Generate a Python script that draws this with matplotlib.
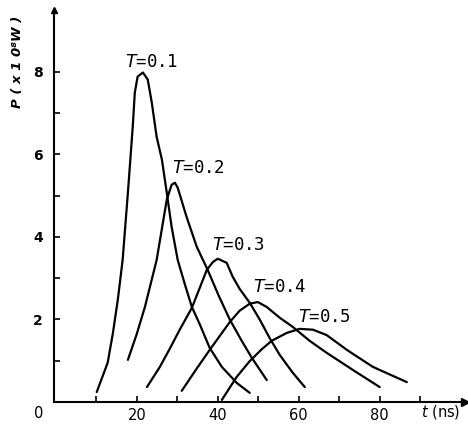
"""Laser pulse power vs time for several output coupling T values."""

import matplotlib
matplotlib.use("Agg")
import matplotlib.pyplot as plt

plt.rcParams["mathtext.fontset"] = "dejavusans"

# pulse curves: time (ns) and power (x10^8 W)
t_01 = [10.1, 12.8, 14.1, 15.3, 16.5, 17.8, 19.0, 19.5, 20.2, 21.5, 22.7, 23.7, 24.9, 26.2,
        27.4, 28.6, 30.1, 31.9, 33.6, 35.6, 38.0, 41.0, 44.7, 47.9]
p_01 = [0.24, 0.95, 1.67, 2.47, 3.44, 5.07, 6.67, 7.49, 7.88, 7.98, 7.81, 7.25, 6.42, 5.87,
        5.07, 4.24, 3.44, 2.84, 2.30, 1.87, 1.31, 0.85, 0.46, 0.22]

t_02 = [17.8, 20.0, 22.0, 24.9, 27.4, 28.6, 29.4, 30.1, 32.3, 34.8, 37.5, 40.2, 43.0, 45.8, 48.4, 52.1]
p_02 = [1.02, 1.65, 2.30, 3.44, 4.90, 5.26, 5.31, 5.19, 4.48, 3.76, 3.20, 2.58, 1.99, 1.50, 1.07, 0.53]

t_03 = [22.5, 25.7, 28.2, 30.6, 33.6, 37.3, 38.8, 40.0, 42.2, 43.7, 45.4, 47.9, 50.4,
        52.8, 55.3, 58.5, 61.5]
p_03 = [0.36, 0.85, 1.30, 1.75, 2.28, 3.20, 3.39, 3.47, 3.37, 3.03, 2.74, 2.40, 1.99,
        1.55, 1.14, 0.71, 0.36]

t_04 = [31.1, 34.6, 38.0, 43.0, 45.4, 47.9, 49.9, 52.1, 55.3, 58.5, 62.7, 66.9, 73.3, 80.0]
p_04 = [0.27, 0.78, 1.26, 1.94, 2.21, 2.38, 2.42, 2.30, 2.04, 1.82, 1.48, 1.19, 0.78, 0.36]

t_05 = [41.0, 44.7, 47.9, 50.9, 53.3, 57.0, 60.2, 63.5, 66.9, 71.9, 78.3, 86.7]
p_05 = [0.05, 0.61, 0.99, 1.28, 1.48, 1.67, 1.77, 1.75, 1.62, 1.26, 0.85, 0.48]

curves = [(t_01, p_01), (t_02, p_02), (t_03, p_03), (t_04, p_04), (t_05, p_05)]
labels = ["0.1", "0.2", "0.3", "0.4", "0.5"]
label_t = [17.0, 28.6, 38.5, 48.6, 59.8]
label_p = [8.24, 5.67, 3.80, 2.79, 2.06]

x_ticks = [10, 20, 30, 40, 50, 60, 70, 80, 90]
x_ticklabels = ["", "20", "", "40", "", "60", "", "80", ""]
y_ticks = [1, 2, 3, 4, 5, 6, 7, 8]
y_ticklabels = ["", "2", "", "4", "", "6", "", "8"]

fig = plt.figure(figsize=(4.68, 4.24), dpi=100)
ax = fig.add_axes([0.115, 0.052, 0.878, 0.925])

for (t, p) in curves:
    ax.plot(t, p, color="black", lw=1.6, solid_capstyle="round", solid_joinstyle="round")

for lab, tx, py in zip(labels, label_t, label_p):
    ax.text(tx, py, r"$T$=" + lab, fontsize=12.5, va="center", ha="left",
            family="DejaVu Sans Mono")

ax.set_xlim(-0.5, 101)
ax.set_ylim(0, 9.5)

for side in ("top", "right"):
    ax.spines[side].set_visible(False)
for side in ("left", "bottom"):
    ax.spines[side].set_linewidth(1.5)

# axis arrows
ax.plot(1, 0, ">k", ms=6, transform=ax.transAxes, clip_on=False)
ax.plot(0, 1, "^k", ms=5, transform=ax.transAxes, clip_on=False)

ax.set_xticks(x_ticks)
ax.set_xticklabels(x_ticklabels, fontsize=10.5)
ax.set_yticks(y_ticks)
ax.set_yticklabels(y_ticklabels, fontsize=10, fontweight="bold")
ax.tick_params(axis="both", direction="in", length=4, width=1.2)
ax.tick_params(axis="x", pad=4)
ax.tick_params(axis="y", pad=8)

fig.text(39 / 468, 1 - 413 / 424, "0", fontsize=10.5, ha="center", va="center")
fig.text(441 / 468, 1 - 412 / 424, r"$t$ (ns)", fontsize=10.5, ha="center", va="center")
fig.text(18 / 468, 1 - 62 / 424, "P ( x 1 0\u2078W )", fontsize=9.5, ha="center",
         va="center", rotation=90, fontweight="bold", fontstyle="italic")

fig.savefig("out.png", dpi=100)
